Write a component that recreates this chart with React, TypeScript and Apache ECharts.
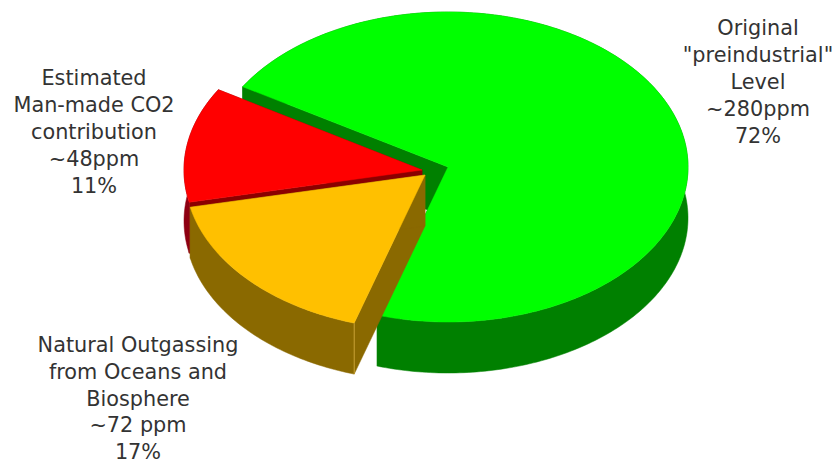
import React, { useEffect, useRef } from "react";
import * as echarts from "echarts";

const sliceNames = ["Original preindustrial level", "Man-made CO2", "Natural outgassing"];
// Share of the circle as drawn in the picture, clockwise from the green slice's start.
const sliceShares = [71.1, 12.0, 16.9];
const sliceLabels = [
  ['Original', '"preindustrial"', 'Level', '~280ppm', '72%'],
  ['Estimated', 'Man-made CO2', 'contribution', '~48ppm', '11%'],
  ['Natural Outgassing', 'from Oceans and', 'Biosphere', '~72 ppm', '17%'],
];
const topColors = ["#00FF00", "#FF0000", "#FFC000"];
const sideColors = ["#008000", "#8E0012", "#8A6900"];
const innerColors = ["#008000", "#8B0000", "#8A6900"];
const apexX = [448, 422, 425];
const apexY = [167, 170, 175];
const radiusX = [240, 238, 240];
const labelX = [758, 94, 138];
const labelY = [82, 132, 398.5];

const RY = 155;
const DEPTH = 51;
const START_DEG = 301.2;
const TOTAL = sliceShares.reduce((a, b) => a + b, 0);

function renderSlice(params: any, api: any) {
  const i = api.value(0) as number;
  const share = api.value(1) as number;
  // Slices run clockwise in the order green, yellow, red, while drawing order is green, red, yellow.
  const order = [0, 2, 1];
  let before = 0;
  for (const k of order) {
    if (k === i) break;
    before += sliceShares[k];
  }
  const a0 = START_DEG + (before / TOTAL) * 360;
  const a1 = a0 + (share / TOTAL) * 360;
  const cx = apexX[i];
  const cy = apexY[i];
  const RX = radiusX[i];
  const arc: number[][] = [];
  const steps = Math.ceil(a1 - a0);
  for (let s = 0; s <= steps; s++) {
    const t = ((a0 + ((a1 - a0) * s) / steps) * Math.PI) / 180;
    arc.push([cx + RX * Math.sin(t), cy - RY * Math.cos(t)]);
  }
  const down = (p: number[]) => [p[0], p[1] + DEPTH];
  const first = arc[0];
  const last = arc[arc.length - 1];
  const apex = [cx, cy];
  const poly = (points: number[][], fill: string) => ({
    type: "polygon",
    shape: { points },
    style: { fill, stroke: fill, lineWidth: 0.5 },
  });
  const children: any[] = [
    poly([first, apex, down(apex), down(first)], innerColors[i]),
    poly([last, apex, down(apex), down(last)], innerColors[i]),
    poly([...arc, ...arc.map(down).reverse()], sideColors[i]),
    poly([apex, ...arc], topColors[i]),
    {
      type: "text",
      x: labelX[i],
      y: labelY[i],
      style: {
        text: sliceLabels[i].join("\n"),
        fill: "#333333",
        font: '20.8px "DejaVu Sans"',
        lineHeight: 26.8,
        align: "center",
        verticalAlign: "middle",
      },
    },
  ];
  if (i === 2) {
    children.push({
      type: "line",
      shape: { x1: first[0], y1: first[1], x2: first[0], y2: first[1] + DEPTH },
      style: { stroke: "#C8A030", lineWidth: 1 },
    });
  }
  return { type: "group", children };
}

export default function App() {
  const ref = useRef<HTMLDivElement>(null);
  useEffect(() => {
    const chart = echarts.init(ref.current!, undefined, { renderer: "svg" });
    chart.setOption({
      animation: false,
      backgroundColor: "#FFFFFF",
      series: [
        {
          type: "custom",
          coordinateSystem: "none",
          renderItem: renderSlice,
          silent: true,
          data: sliceNames.map((name, i) => ({ name, value: [i, sliceShares[i]] })),
        },
      ],
    });
    return () => chart.dispose();
  }, []);
  return (
    <div
      ref={ref}
      style={{ position: "fixed", left: 0, top: 0, width: 834, height: 461 }}
    />
  );
}
